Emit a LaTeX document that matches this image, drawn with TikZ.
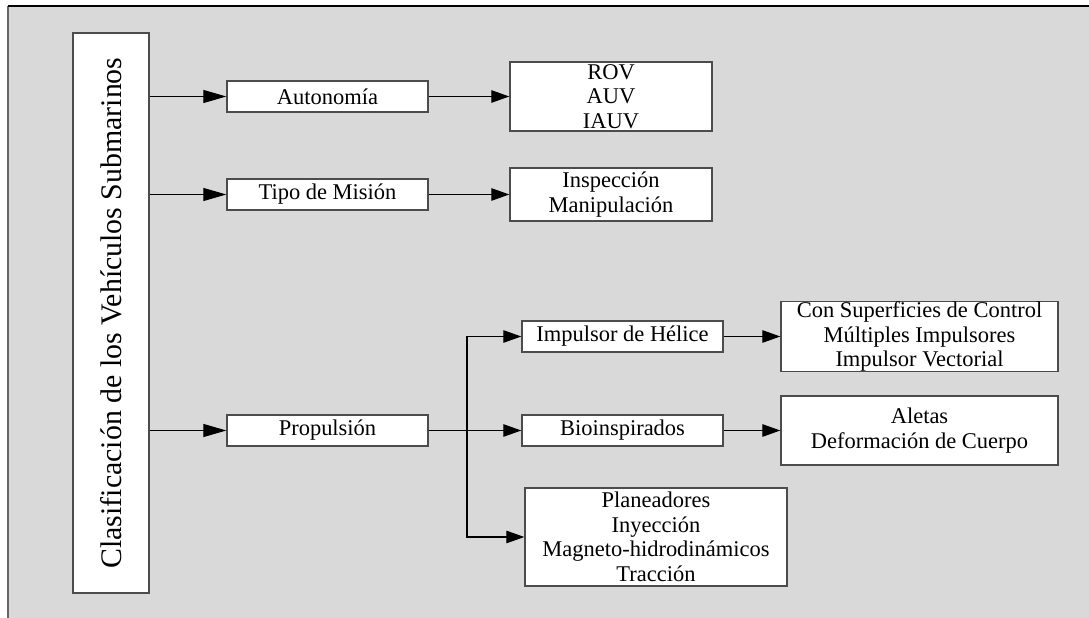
\documentclass[tikz,border=0pt]{standalone}
\usepackage{fontspec}
\setmainfont{Liberation Serif}
\usetikzlibrary{arrows.meta}
\definecolor{fondo}{HTML}{D9D9D9}
\tikzset{
  caja/.style={draw=black!70, line width=0.8pt, fill=white, inner sep=0pt, align=center, font=\fontsize{12.8}{14}\selectfont},
  flecha/.style={line width=0.6pt, -{Triangle[length=0.36cm,width=0.25cm]}},
  flechalarga/.style={line width=0.6pt, -{Triangle[length=0.46cm,width=0.26cm]}}
}

\begin{document}
\begin{tikzpicture}[x=0.02cm,y=-0.02cm]
		\useasboundingbox (0,0) rectangle (1089,618);
		\fill[fondo] (8,6) rectangle (1089,618);
		\draw[black!60,line width=0.8pt] (8,618) -- (8,6);
		\draw[black,line width=0.8pt] (8,6) -- (1089,6);
		\node[caja, minimum width=1.52cm, minimum height=11.2cm] (clasif) at (111,313)
		{\rotatebox{90}{\fontsize{17}{20}\selectfont Clasificación de los Vehículos Submarinos}};
		\node[caja, minimum width=4.02cm, minimum height=0.62cm] (auton) at (327.5,96.5) {Autonomía};
		\node[caja, minimum width=4.02cm, minimum height=0.62cm] (mision) at (327.5,194.5) {Tipo de Misión};
		\node[caja, minimum width=4.02cm, minimum height=0.62cm] (propul) at (327.5,430.5) {Propulsión};
		\node[caja, minimum width=4.04cm, minimum height=1.38cm] (rov) at (611,96.5) {ROV\\AUV\\IAUV};
		\node[caja, minimum width=4.04cm, minimum height=1.06cm] (inspec) at (611,194.5) {Inspección\\Manipulación};
		\node[caja, minimum width=4.02cm, minimum height=0.62cm] (helice) at (622.5,336.5) {Impulsor de Hélice};
		\node[caja, minimum width=4.02cm, minimum height=0.62cm] (bioins) at (622.5,430.5) {Bioinspirados};
		\node[caja, minimum width=5.24cm, minimum height=1.96cm] (planea) at (656,537)
		{Planeadores\\Inyección\\Magneto-hidrodinámicos\\Tracción};
		\node[caja, minimum width=5.54cm, minimum height=1.40cm] (superf) at (919.5,336.5)
		{Con Superficies de Control\\Múltiples Impulsores\\Impulsor Vectorial};
		\node[caja, minimum width=5.54cm, minimum height=1.38cm] (aletas) at (919.5,430.5)
		{Aletas\\Deformación de Cuerpo};
		\coordinate (rama) at (467,430.5);
		\draw[flechalarga] (clasif.east |- auton.west) -- (auton.west);
		\draw[flechalarga] (clasif.east |- mision.west) -- (mision.west);
		\draw[flechalarga] (clasif.east |- propul.west) -- (propul.west);
		\draw[flecha] (auton.east) -- (auton.east -| rov.west);
		\draw[flecha] (mision.east) -- (mision.east -| inspec.west);
		\draw[flecha] (propul.east) -- (bioins.west);
		\draw[flecha] (rama) |- (helice.west);
		\draw[flecha] (rama) |- (planea.west);
		\draw[flecha] (helice.east) -- (superf.west);
		\draw[flecha] (bioins.east) -- (aletas.west);
	\end{tikzpicture}
\end{document}
